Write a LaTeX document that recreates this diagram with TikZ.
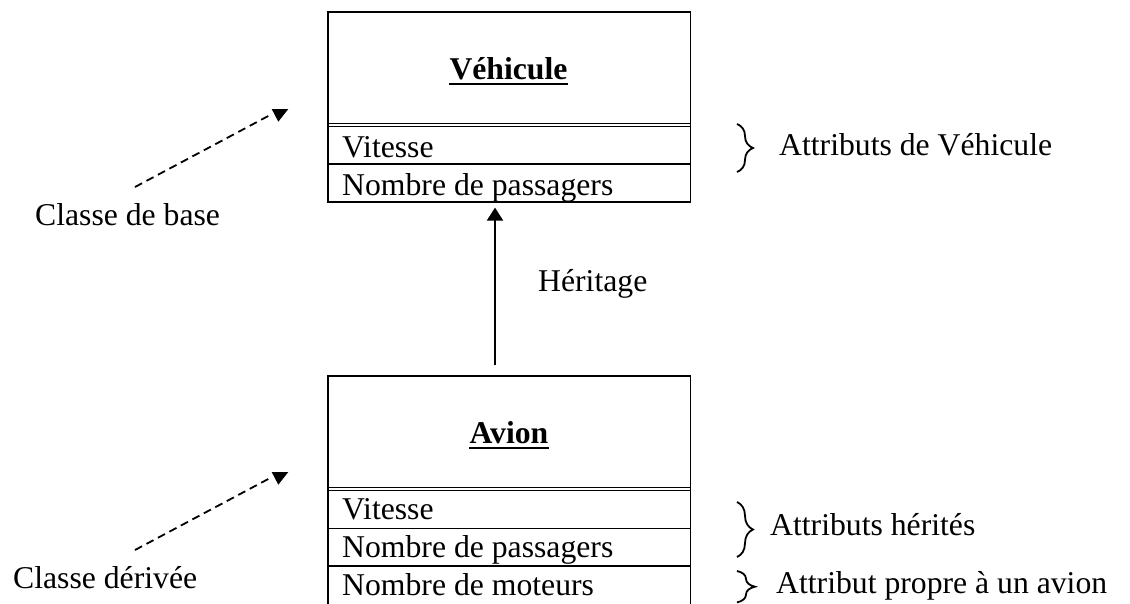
\documentclass[tikz,border=0pt]{standalone}
\usepackage{fontspec}
\setmainfont{Liberation Serif}
\usetikzlibrary{decorations.pathreplacing,arrows.meta}
\begin{document}
\begin{tikzpicture}[x=1pt,y=-1pt,
  txt/.style={anchor=base west, inner sep=0pt, font=\fontsize{31.7}{38}\selectfont},
  ttl/.style={anchor=base, inner sep=0pt, font=\fontsize{31.7}{38}\selectfont\bfseries},
  classbox/.style={draw, line width=1.2pt, inner sep=0pt, minimum width=362.7pt},
  divider/.style={line width=1.2pt},
  dsh/.style={line width=1.8pt, dash pattern=on 8pt off 5pt},
  tipfill/.style={fill=black},
  brc/.style={decorate, decoration={brace, amplitude=#1}, line width=1.8pt},
  inh/.style={line width=2pt, -{Triangle[length=13pt,width=16pt]}}
]
\useasboundingbox (0,0) rectangle (1130,603);
\clip (0,0) rectangle (1130,603);

% Vehicule box
\node[classbox, minimum height=190pt] (veh) at (509.35,107) {};
\draw[divider] (328,123.3) -- (690.7,123.3);
\draw[divider] (328,126.3) -- (690.7,126.3);
\draw[divider] (328,164) -- (690.7,164);
\node[ttl] (vt) at (508.5,79) {Véhicule};
\draw[line width=2.7pt] ([yshift=-5pt]vt.base west) -- ([yshift=-5pt]vt.base east);
\node[txt] (v1) at (342,157) {Vitesse};
\node[txt] (v2) at (342,195) {Nombre de passagers};

% Avion box
\node[classbox, minimum height=244pt] (av) at (509.35,498) {};
\draw[divider] (328,487.7) -- (690.7,487.7);
\draw[divider] (328,490.5) -- (690.7,490.5);
\draw[divider] (328,528.3) -- (690.7,528.3);
\draw[divider] (328,566) -- (690.7,566);
\node[ttl] (at) at (509,443) {Avion};
\draw[line width=2.7pt] ([yshift=-5pt]at.base west) -- ([yshift=-5pt]at.base east);
\node[txt] (a1) at (342,519) {Vitesse};
\node[txt] (a2) at (342,557) {Nombre de passagers};
\node[txt] (a3) at (342,595) {Nombre de moteurs};

% Inheritance arrow
\draw[inh, shorten <=10pt, shorten >=5pt] ([xshift=-14.35pt]av.north) -- ([xshift=-14.35pt]veh.south);
\node[txt] (her) at (538,291.7) {Héritage};

% Dashed pointers
\coordinate (ds1) at (135,187);
\coordinate (de1) at (272,114);
\draw[dsh] (ds1) -- (de1);
\fill[tipfill] (271.7,109) -- (288.3,109) -- (278.3,121.7) -- cycle;
\node[txt] (cb) at (35,225) {Classe de base};

\coordinate (ds2) at (135,550);
\coordinate (de2) at (272,477);
\draw[dsh] (ds2) -- (de2);
\fill[tipfill] (271.7,472) -- (288.3,472) -- (278.3,484.7) -- cycle;
\node[txt] (cd) at (13,588) {Classe dérivée};

% Braces
\coordinate (b1t) at (737,124);
\coordinate (b1b) at (737,172);
\draw[brc=16pt] (b1t) -- (b1b);
\node[txt] (l1) at (779,155) {Attributs de Véhicule};

\coordinate (b2t) at (737,502);
\coordinate (b2b) at (737,557);
\draw[brc=16pt] (b2t) -- (b2b);
\node[txt] (l2) at (770,535) {Attributs hérités};

\coordinate (b3t) at (737,571);
\coordinate (b3b) at (737,602.4);
\draw[brc=18pt] (b3t) -- (b3b);
\node[txt] (l3) at (776,593) {Attribut propre à un avion};
\end{tikzpicture}
\end{document}
